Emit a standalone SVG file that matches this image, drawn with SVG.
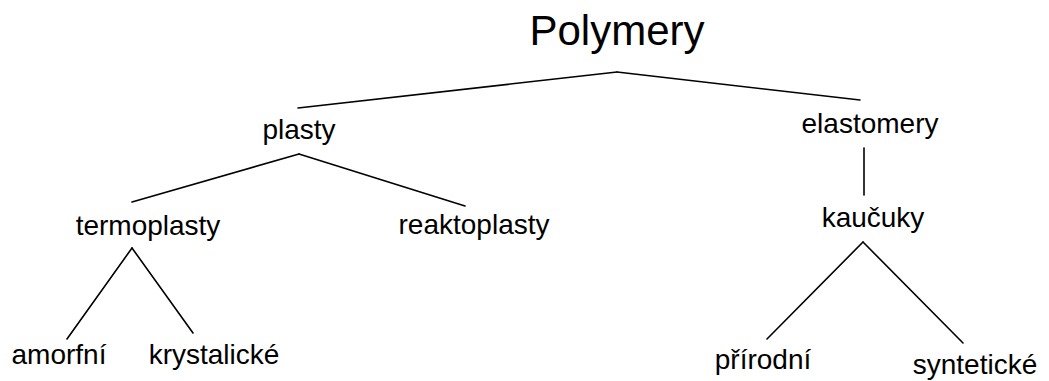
<svg xmlns="http://www.w3.org/2000/svg" width="1049" height="381" viewBox="0 0 1049 381">
<style>
text{font-family:"Liberation Sans",Arial,sans-serif;font-size:28px;fill:#000;text-anchor:middle}
.title{font-size:42px}
#connectors line{stroke:#000;stroke-width:1.6;stroke-linecap:round}
</style>
<rect width="1049" height="381" fill="#fff"/>
<g id="connectors">
<line x1="617" y1="72" x2="298" y2="108"/>
<line x1="617" y1="72" x2="860" y2="100"/>
<line x1="299" y1="154" x2="132" y2="202"/>
<line x1="299" y1="154" x2="465" y2="206"/>
<line x1="864" y1="148" x2="864" y2="195"/>
<line x1="132" y1="248" x2="67" y2="339"/>
<line x1="132" y1="248" x2="193" y2="333"/>
<line x1="863" y1="242" x2="767" y2="339"/>
<line x1="863" y1="242" x2="963" y2="343"/>
</g>
<g id="polymery"><text class="title" x="617" y="45">Polymery</text></g>
<g id="plasty"><text x="299" y="139">plasty</text></g>
<g id="elastomery"><text x="870" y="133">elastomery</text></g>
<g id="termoplasty"><text x="148" y="235">termoplasty</text></g>
<g id="reaktoplasty"><text x="474" y="234">reaktoplasty</text></g>
<g id="kaucuky"><text x="873" y="227">kaučuky</text></g>
<g id="amorfni"><text x="59" y="364">amorfní</text></g>
<g id="krystalicke"><text x="214" y="364">krystalické</text></g>
<g id="prirodni"><text x="763" y="369">přírodní</text></g>
<g id="synteticke"><text x="975" y="374">syntetické</text></g>
</svg>
